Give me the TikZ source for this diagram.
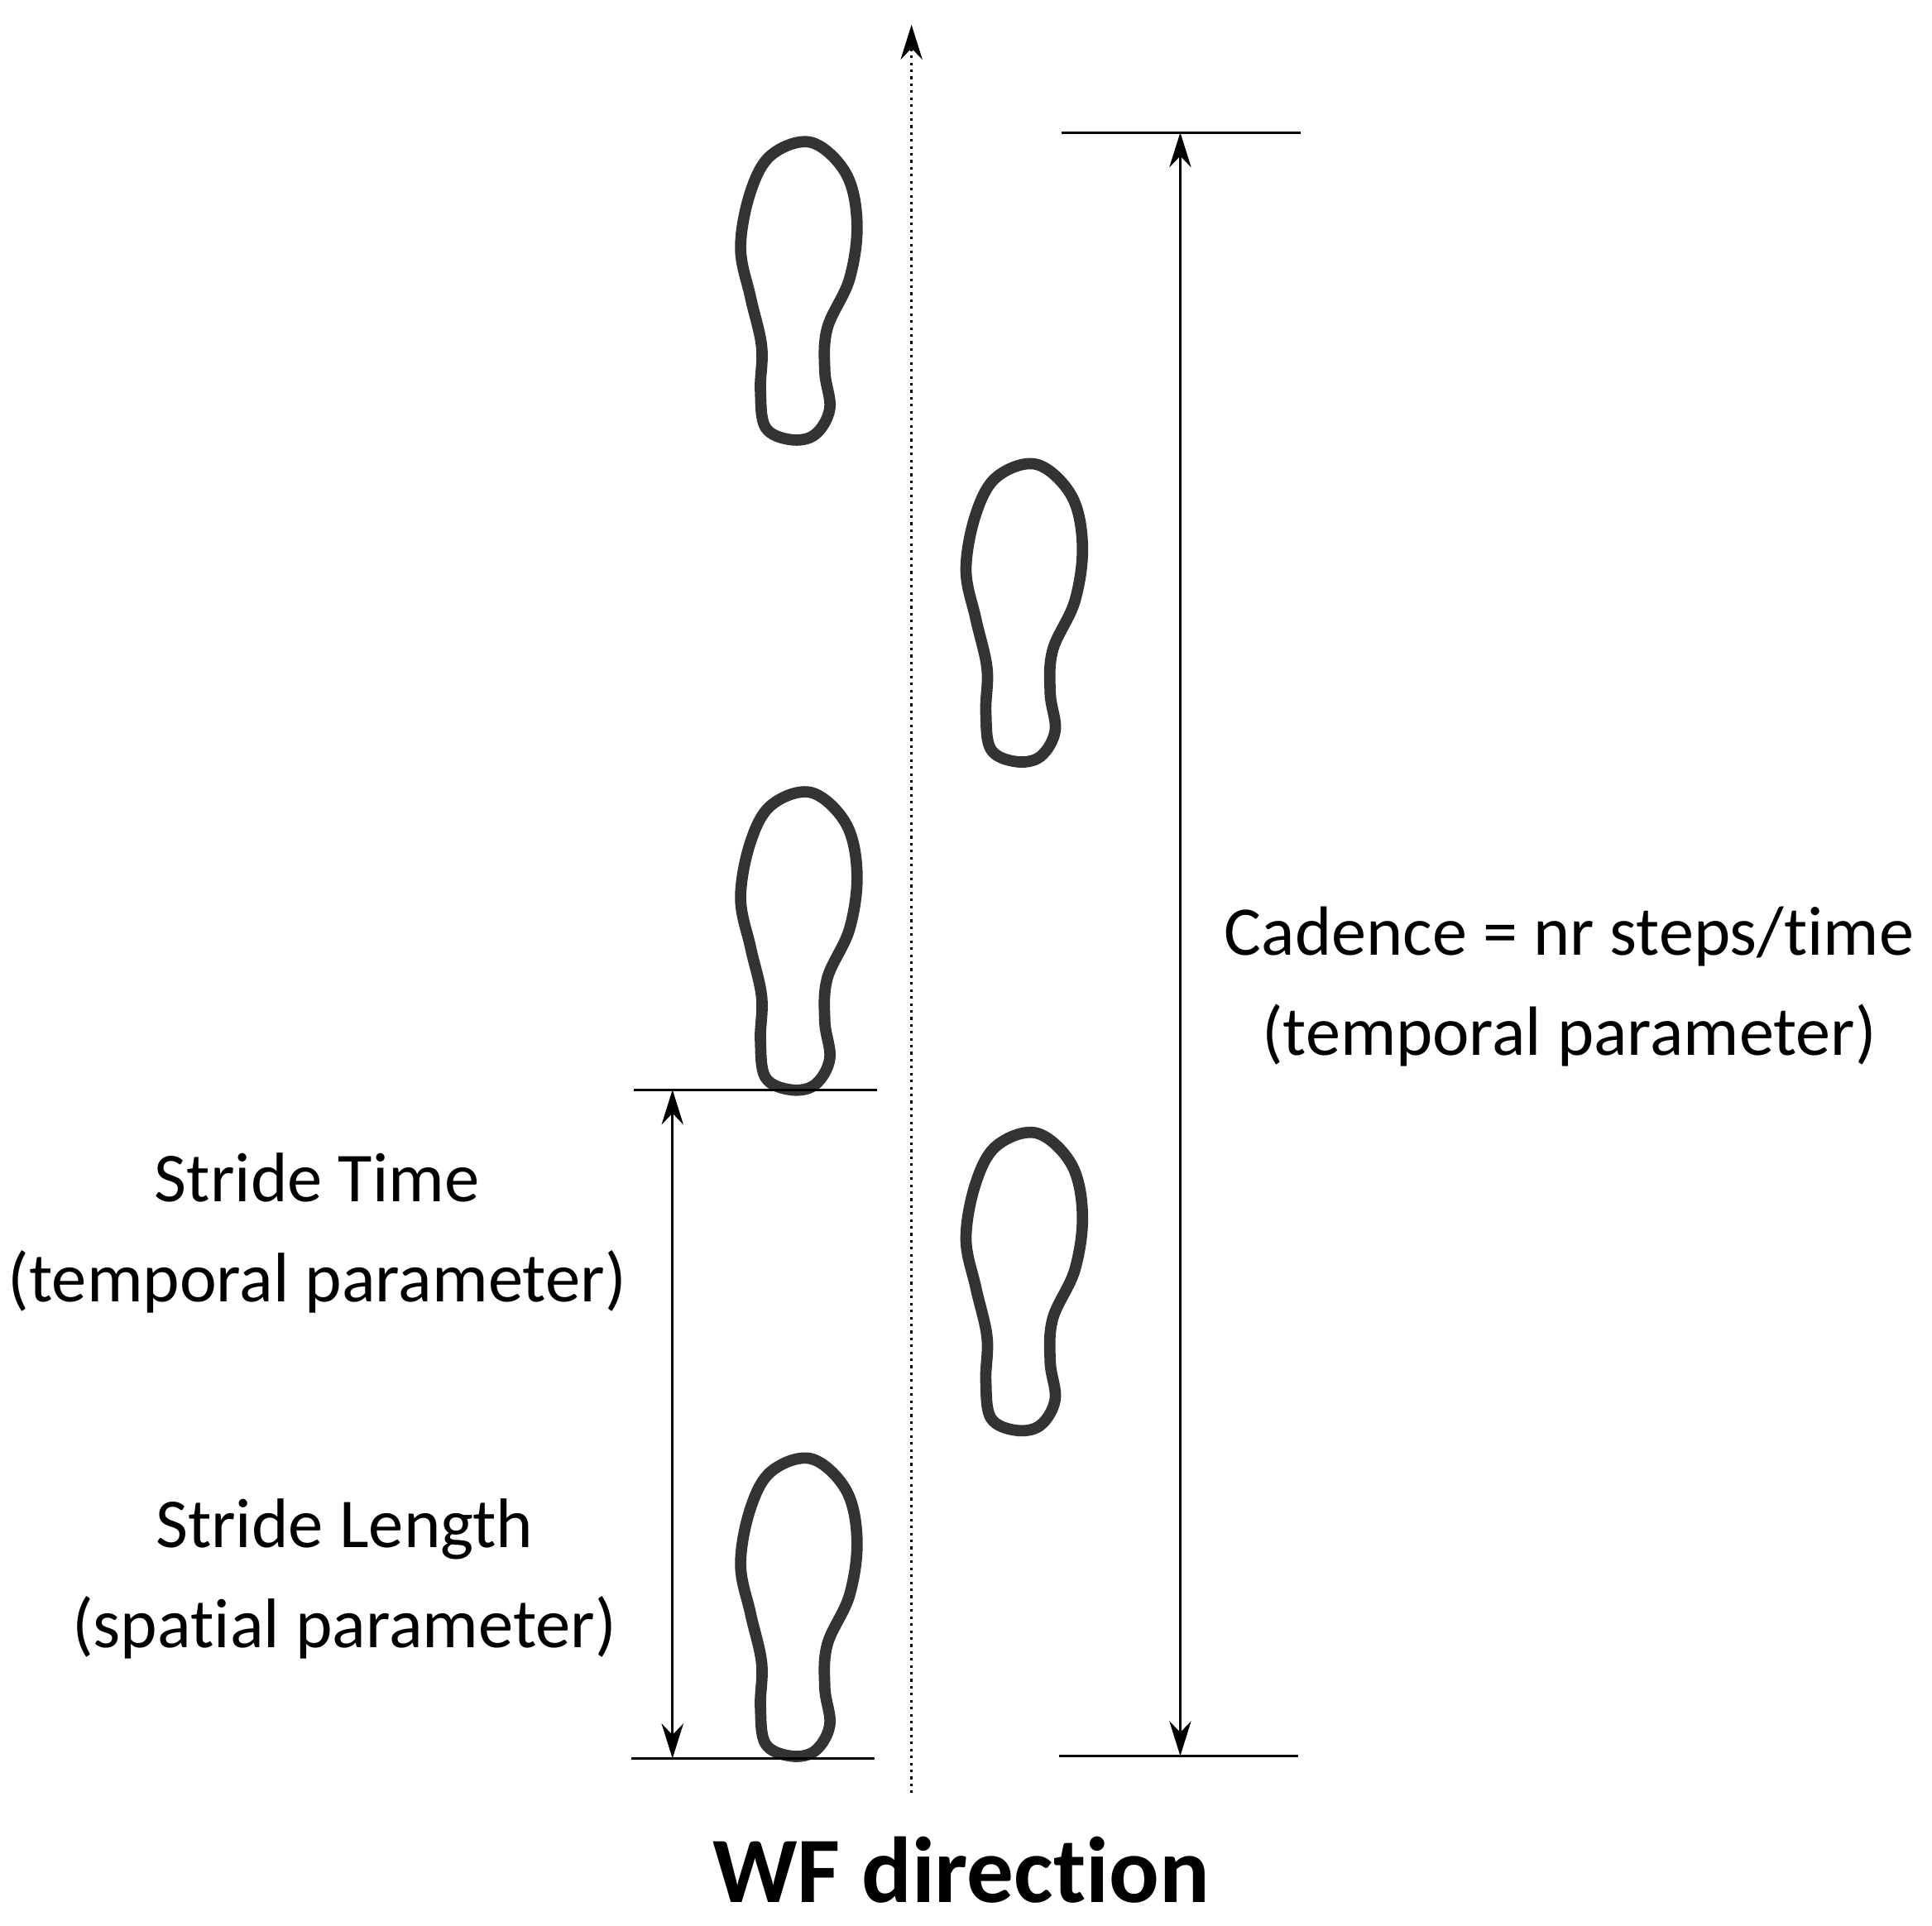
\documentclass[tikz,border=0pt]{standalone}
\usepackage{fontspec}
\setmainfont{Carlito}[Ligatures=NoCommon]
\usetikzlibrary{arrows.meta}
\begin{document}
\begin{tikzpicture}[x=0.01cm,y=-0.01cm,
  foot/.style={line width=2.6pt,draw=black!80},
  dim/.style={line width=0.6pt},
  arr/.style={dim,{Stealth[length=8pt,width=5pt]}-{Stealth[length=8pt,width=5pt]}},
  lbl/.style={font=\fontsize{16.1}{19}\selectfont,align=center}]
\useasboundingbox (0,0) rectangle (1560,1555);
\newcommand{\myfoot}[2]{%
  \draw[foot,shift={(#1,#2)}] plot[smooth cycle,tension=0.6] coordinates
  {(57,0) (85,25) (94,65) (88,110) (70,150) (68,185) (72,215) (60,236) (40,240) (20,230) (16,200) (17,165) (8,125) (0,85) (8,40) (25,10)};}
\myfoot{598}{115}
\myfoot{780}{375}
\myfoot{598}{640}
\myfoot{780}{915}
\myfoot{598}{1178}
% axis
\coordinate (ab) at (736,1448);
\coordinate (at) at (736,20);
\draw[dim,densely dotted,-{Stealth[length=8pt,width=5pt]}] (ab) -- (at);
% left dims
\coordinate (l1a) at (512,880); \coordinate (l1b) at (708,880);
\coordinate (l2a) at (510,1420); \coordinate (l2b) at (706,1420);
\draw[dim] (l1a) -- (l1b);
\draw[dim] (l2a) -- (l2b);
\coordinate (la) at (543,880); \coordinate (lb) at (543,1420);
\draw[arr] (la) -- (lb);
% right dims
\coordinate (r1a) at (857,107); \coordinate (r1b) at (1050,107);
\coordinate (r2a) at (855,1418); \coordinate (r2b) at (1048,1418);
\draw[dim] (r1a) -- (r1b);
\draw[dim] (r2a) -- (r2b);
\coordinate (ra) at (953,107); \coordinate (rb) at (953,1418);
\draw[arr] (ra) -- (rb);
% labels
\node[lbl] (st) at (256,996) {Stride Time\\[4pt](temporal parameter)};
\node[lbl] (sl) at (278,1275) {Stride Length\\[4pt](spatial parameter)};
\node[lbl,font=\fontsize{16}{19}\selectfont] (cad) at (1267,797) {Cadence = nr steps/time\\[4pt](temporal parameter)};
\node[font=\bfseries\fontsize{21.5}{26}\selectfont] (wf) at (776,1510) {WF direction};
\end{tikzpicture}
\end{document}
